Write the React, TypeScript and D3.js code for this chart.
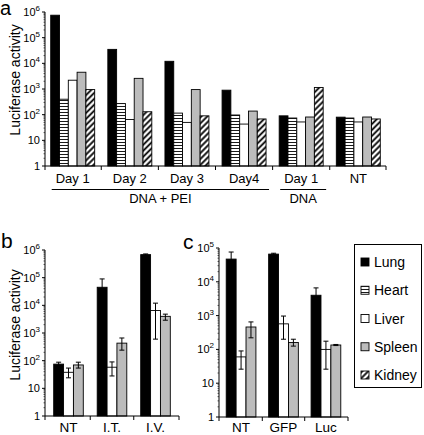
import React from "react";
import * as d3 from "d3";

// ---------- Data ----------
const seriesA = ["Lung", "Heart", "Liver", "Spleen", "Kidney"];
const groupsA = ["Day 1", "Day 2", "Day 3", "Day4", "Day 1", "NT"];
const lungA = [750000, 35000, 12000, 900, 90, 80];
const heartA = [400, 270, 115, 97, 74, 74];
const liverA = [2200, 65, 50, 43, 52, 52];
const spleenA = [4500, 2600, 950, 138, 81, 81];
const kidneyA = [950, 130, 90, 68, 1150, 68];
const bracketsA = [
  { label: "DNA + PEI", from: 0, to: 3 },
  { label: "DNA", from: 4, to: 4 },
];

const seriesBC = ["Lung", "Liver", "Spleen"];
const groupsB = ["NT", "I.T.", "I.V."];
const lungB = [75, 45000, 680000];
const lungBHi = [88, 90000, 720000];
const lungBLo = [60, 25000, 640000];
const liverB = [38, 58, 6500];
const liverBHi = [54, 90, 12000];
const liverBLo = [24, 28, 600];
const spleenB = [70, 430, 4000];
const spleenBHi = [88, 660, 4800];
const spleenBLo = [54, 240, 2900];

const groupsC = ["NT", "GFP", "Luc"];
const lungC = [47000, 66000, 4000];
const lungCHi = [76000, 70000, 6600];
const lungCLo = [25000, 62000, 2500];
const liverC = [60, 570, 100];
const liverCHi = [90, 970, 175];
const liverCLo = [26, 200, 26];
const spleenC = [460, 160, 135];
const spleenCHi = [650, 200, 140];
const spleenCLo = [220, 125, 130];

const ticksA = [1, 10, 100, 1000, 10000, 100000, 1000000];
const ticksC = [1, 10, 100, 1000, 10000, 100000];

const FONT = "'Liberation Sans', Arial, Helvetica, sans-serif";
const GREY = "#bcbcbc";
const fills: Record<string, string> = {
  Lung: "#000",
  Heart: "url(#hstripe)",
  Liver: "#fff",
  Spleen: GREY,
  Kidney: "url(#dstripe)",
};

function TickLabel({ x, y, v }: { x: number; y: number; v: number }) {
  const e = Math.round(Math.log10(v));
  return (
    <text x={x} y={y + 4} textAnchor="end" fontSize={11} fontFamily={FONT}>
      {e <= 1 ? String(v) : "10"}
      {e > 1 && (
        <tspan dy={-5} fontSize={8}>
          {e}
        </tspan>
      )}
    </text>
  );
}

function YAxis({ y, x, ticks }: { y: d3.ScaleLogarithmic<number, number>; x: number; ticks: number[] }) {
  const [r0, r1] = y.range();
  const minors: number[] = [];
  for (let i = 0; i < ticks.length - 1; i++) {
    for (let k = 2; k <= 9; k++) minors.push(ticks[i] * k);
  }
  return (
    <g>
      <line x1={x} x2={x} y1={r0} y2={r1} stroke="#000" strokeWidth={1} />
      {ticks.map((t) => (
        <g key={t}>
          <line x1={x - 3} x2={x} y1={y(t)} y2={y(t)} stroke="#000" />
          <TickLabel x={x - 5} y={y(t)} v={t} />
        </g>
      ))}
      {minors.map((t) => (
        <line key={"m" + t} x1={x - 1.5} x2={x} y1={y(t)} y2={y(t)} stroke="#000" strokeWidth={0.6} />
      ))}
    </g>
  );
}

function YLabel({ x, cy }: { x: number; cy: number }) {
  return (
    <text
      transform={`translate(${x},${cy}) rotate(-90)`}
      textAnchor="middle"
      fontSize={14}
      fontFamily={FONT}
    >
      Luciferase activity
    </text>
  );
}

function XAxisBand({
  xs,
  y,
  x0,
  x1,
}: {
  xs: d3.ScaleBand<string>;
  y: number;
  x0: number;
  x1: number;
}) {
  const dom = xs.domain();
  const bounds: number[] = [x0];
  for (let i = 0; i < dom.length - 1; i++) {
    const a = (xs(dom[i]) as number) + xs.bandwidth();
    const b = xs(dom[i + 1]) as number;
    bounds.push((a + b) / 2);
  }
  bounds.push(x1);
  return (
    <g>
      <line x1={x0} x2={x1} y1={y} y2={y} stroke="#000" />
      {bounds.map((b, i) => (
        <line key={i} x1={b} x2={b} y1={y} y2={y + 4} stroke="#000" />
      ))}
    </g>
  );
}

function PanelA() {
  const y = d3.scaleLog().domain([1, 1e6]).range([166, 12]);
  const ids = groupsA.map((_, i) => String(i));
  const x = d3.scaleBand().domain(ids).range([45, 386]).paddingInner(0.23).paddingOuter(0.1);
  const xi = d3.scaleBand().domain(seriesA).range([0, x.bandwidth()]);
  const vals: Record<string, number[]> = {
    Lung: lungA,
    Heart: heartA,
    Liver: liverA,
    Spleen: spleenA,
    Kidney: kidneyA,
  };
  return (
    <g>
      {ids.map((id, gi) =>
        seriesA.map((s) => {
          const v = vals[s][gi];
          const bx = (x(id) as number) + (xi(s) as number);
          return (
            <rect
              key={id + s}
              x={bx}
              y={y(v)}
              width={xi.bandwidth()}
              height={y(1) - y(v)}
              fill={fills[s]}
              stroke="#000"
              strokeWidth={0.9}
            />
          );
        })
      )}
      <YAxis y={y} x={45} ticks={ticksA} />
      <XAxisBand xs={x} y={166} x0={45} x1={386} />
      {ids.map((id, gi) => (
        <text
          key={"l" + id}
          x={(x(id) as number) + x.bandwidth() / 2}
          y={183}
          textAnchor="middle"
          fontSize={13}
          fontFamily={FONT}
        >
          {groupsA[gi]}
        </text>
      ))}
      {bracketsA.map((b) => {
        const xa = (x(String(b.from)) as number) + 1;
        const xb = (x(String(b.to)) as number) + x.bandwidth() + 3;
        return (
          <g key={b.label}>
            <line x1={xa} x2={xb} y1={189.5} y2={189.5} stroke="#000" />
            <text x={(xa + xb) / 2} y={203} textAnchor="middle" fontSize={13} fontFamily={FONT}>
              {b.label}
            </text>
          </g>
        );
      })}
      <YLabel x={20} cy={80} />
      <text x={0} y={15} fontSize={20} fontFamily={FONT}>
        a
      </text>
    </g>
  );
}

function PanelBC({
  groups,
  y,
  x,
  axisX,
  axisEnd,
  ticks,
  lung,
  lungHi,
  lungLo,
  liver,
  liverHi,
  liverLo,
  spleen,
  spleenHi,
  spleenLo,
}: any) {
  const yb = y.range()[0];
  const xi = d3.scaleBand().domain(seriesBC).range([0, x.bandwidth()]);
  const vals: Record<string, number[][]> = {
    Lung: [lung, lungHi, lungLo],
    Liver: [liver, liverHi, liverLo],
    Spleen: [spleen, spleenHi, spleenLo],
  };
  return (
    <g>
      {groups.map((g: string, gi: number) =>
        seriesBC.map((s) => {
          const [v, hi, lo] = vals[s].map((a) => a[gi]);
          const bx = (x(g) as number) + (xi(s) as number);
          const cx = bx + xi.bandwidth() / 2;
          return (
            <g key={g + s}>
              <rect
                x={bx}
                y={y(v)}
                width={xi.bandwidth()}
                height={yb - y(v)}
                fill={fills[s]}
                stroke="#000"
                strokeWidth={0.9}
              />
              <line x1={cx} x2={cx} y1={y(hi)} y2={y(lo)} stroke="#000" strokeWidth={1} />
              <line x1={cx - 2.5} x2={cx + 2.5} y1={y(hi)} y2={y(hi)} stroke="#000" strokeWidth={1} />
              <line x1={cx - 2.5} x2={cx + 2.5} y1={y(lo)} y2={y(lo)} stroke="#000" strokeWidth={1} />
            </g>
          );
        })
      )}
      <YAxis y={y} x={axisX} ticks={ticks} />
      <XAxisBand xs={x} y={yb} x0={axisX} x1={axisEnd} />
      {groups.map((g: string) => (
        <text
          key={"t" + g}
          x={(x(g) as number) + x.bandwidth() / 2}
          y={432}
          textAnchor="middle"
          fontSize={13.5}
          fontFamily={FONT}
        >
          {g}
        </text>
      ))}
    </g>
  );
}

function Legend() {
  const rows = d3.scalePoint().domain(seriesA).range([262, 375]);
  return (
    <g>
      <rect x={354.5} y={244.5} width={67} height={143} fill="#fff" stroke="#000" strokeWidth={1} />
      {seriesA.map((s) => {
        const cy = rows(s) as number;
        return (
          <g key={s}>
            <rect x={361} y={cy - 4} width={8} height={8} fill={fills[s]} stroke="#000" strokeWidth={0.9} />
            <text x={374} y={cy + 5} fontSize={14} fontFamily={FONT}>
              {s}
            </text>
          </g>
        );
      })}
    </g>
  );
}

export default function App() {
  const yB = d3.scaleLog().domain([1, 1e6]).range([416, 250]);
  const xB = d3.scaleBand().domain(groupsB).range([45, 179]).paddingInner(0.32).paddingOuter(0.2);
  const yC = d3.scaleLog().domain([1, 1e5]).range([417, 248]);
  const xC = d3.scaleBand().domain(groupsC).range([219, 348]).paddingInner(0.3).paddingOuter(0.17);
  return (
    <svg
      width={424}
      height={435}
      style={{ position: "absolute", left: 0, top: 0, background: "#fff" }}
    >
      <defs>
        <pattern id="hstripe" patternUnits="userSpaceOnUse" width={6} height={3}>
          <rect width={6} height={3} fill="#fff" />
          <line x1={0} x2={6} y1={1.5} y2={1.5} stroke="#000" strokeWidth={0.9} />
        </pattern>
        <pattern
          id="dstripe"
          patternUnits="userSpaceOnUse"
          width={4.2}
          height={4.2}
          patternTransform="rotate(45)"
        >
          <rect width={4.2} height={4.2} fill="#fff" />
          <line x1={2.1} x2={2.1} y1={0} y2={4.2} stroke="#000" strokeWidth={1.8} />
        </pattern>
      </defs>
      <rect width={424} height={435} fill="#fff" />
      <PanelA />
      <PanelBC
        groups={groupsB}
        y={yB}
        x={xB}
        axisX={45}
        axisEnd={179}
        ticks={ticksA}
        lung={lungB}
        lungHi={lungBHi}
        lungLo={lungBLo}
        liver={liverB}
        liverHi={liverBHi}
        liverLo={liverBLo}
        spleen={spleenB}
        spleenHi={spleenBHi}
        spleenLo={spleenBLo}
      />
      <YLabel x={20} cy={325} />
      <text x={1} y={248} fontSize={21} fontFamily={FONT}>
        b
      </text>
      <PanelBC
        groups={groupsC}
        y={yC}
        x={xC}
        axisX={219}
        axisEnd={348}
        ticks={ticksC}
        lung={lungC}
        lungHi={lungCHi}
        lungLo={lungCLo}
        liver={liverC}
        liverHi={liverCHi}
        liverLo={liverCLo}
        spleen={spleenC}
        spleenHi={spleenCHi}
        spleenLo={spleenCLo}
      />
      <text x={183} y={249} fontSize={21} fontFamily={FONT}>
        c
      </text>
      <Legend />
    </svg>
  );
}
